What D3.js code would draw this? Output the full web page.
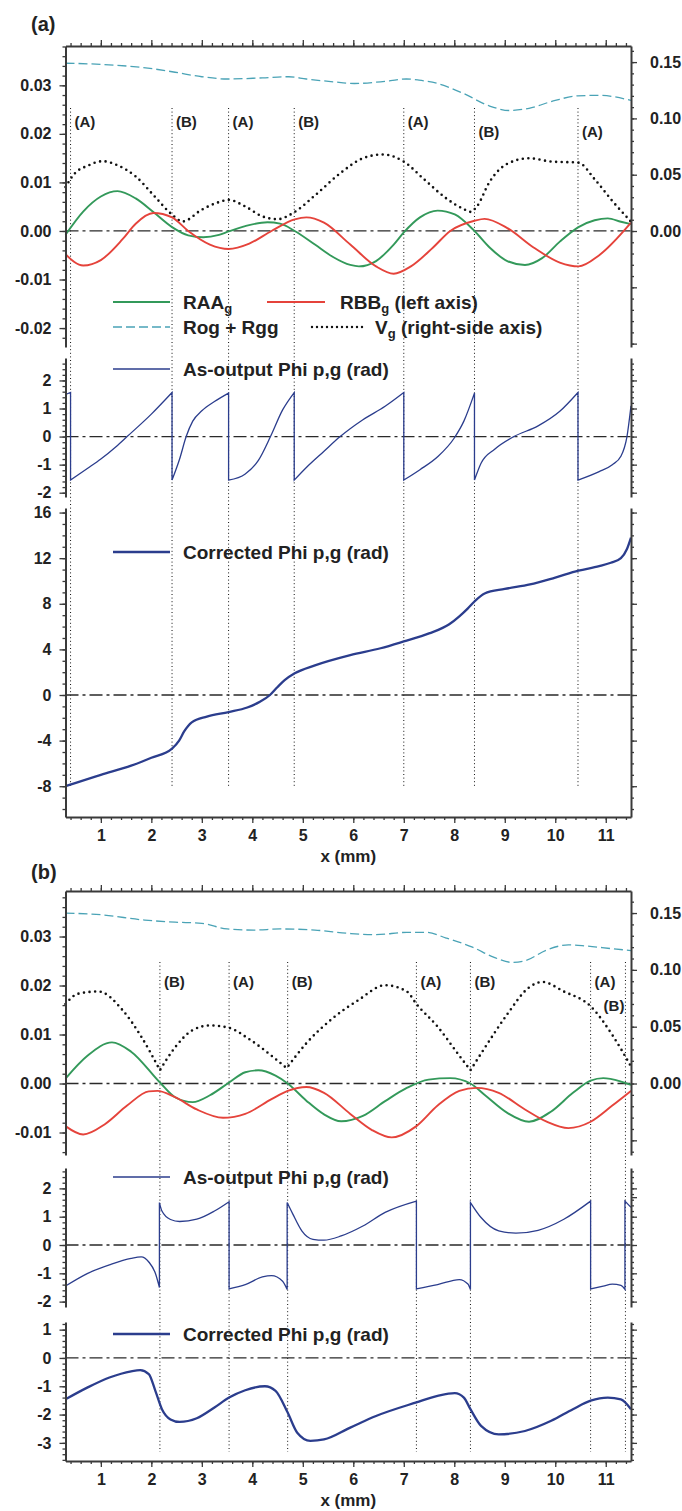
<!DOCTYPE html>
<html lang="en">
<head>
<meta charset="utf-8">
<title>RAAg / RBBg / Phi p,g</title>
<script src="https://cdnjs.cloudflare.com/ajax/libs/d3/7.8.5/d3.min.js"></script>
<style>
  body { margin: 0; background: #fff; }
  svg text { font-family: "Liberation Sans", Arial, sans-serif; font-weight: bold; fill: #222; }
</style>
</head>
<body>
<svg id="svg" width="682" height="1511"></svg>
<script>
// ---------- data ----------
var xDomain = [0.3, 11.5];
var xTicks = [1, 2, 3, 4, 5, 6, 7, 8, 9, 10, 11];

var aMarkX = [0.40, 2.41, 3.53, 4.83, 7.00, 8.40, 10.45];
var aMarkLabel = ["(A)", "(B)", "(A)", "(B)", "(A)", "(B)", "(A)"];
var bMarkX = [2.17, 3.54, 4.70, 7.25, 8.32, 10.70, 11.39];
var bMarkLabel = ["(B)", "(A)", "(B)", "(A)", "(B)", "(A)", "(B)"];

var aLeftTicks = [-0.02, -0.01, 0, 0.01, 0.02, 0.03];
var bLeftTicks = [-0.01, 0, 0.01, 0.02, 0.03];
var rightTicks = [-0.10, -0.05, 0, 0.05, 0.10, 0.15];
var phiTicks = [-2, -1, 0, 1, 2];
var aCorrTicks = [-8, -4, 0, 4, 8, 12, 16];
var bCorrTicks = [-3, -2, -1, 0, 1];

// panel (a)
var aRog = [[0.3,0.149],[1.0,0.148],[2.04,0.144],[2.47,0.141],[3.0,0.137],[3.5,0.135],[4.2,0.136],[4.72,0.137],
  [5.07,0.135],[5.6,0.1325],[6.02,0.131],[6.54,0.1325],[7.05,0.135],[7.3,0.134],[7.67,0.131],[8.19,0.122],
  [8.7,0.111],[9.1,0.107],[9.48,0.109],[10.0,0.116],[10.44,0.120],[10.87,0.1205],[11.5,0.116]];
var aRAA = [[0.3,-0.0008],[0.65,0.004],[1.0,0.0071],[1.33,0.0082],[1.69,0.0067],[2.04,0.0039],[2.41,0.0008],
  [2.73,-0.0009],[3.03,-0.0013],[3.34,-0.0008],[3.53,-0.0001],[3.86,0.001],[4.3,0.0018],[4.55,0.0015],[4.84,0],
  [5.24,-0.0028],[5.59,-0.0053],[5.94,-0.007],[6.11,-0.0073],[6.45,-0.0062],[6.8,-0.0028],[7.0,-0.0003],
  [7.32,0.0028],[7.67,0.0042],[8.01,0.0034],[8.4,0],[8.7,-0.0034],[9.05,-0.0062],[9.4,-0.007],[9.74,-0.0056],
  [10.09,-0.0022],[10.46,0.0008],[10.78,0.0022],[11.04,0.0026],[11.3,0.0019],[11.5,0.0014]];
var aRBB = [[0.3,-0.0048],[0.65,-0.0071],[1.0,-0.006],[1.43,-0.0017],[1.69,0.0015],[2.04,0.0037],[2.41,0.0028],
  [2.73,0],[3.16,-0.0028],[3.53,-0.0037],[3.94,-0.0026],[4.38,0],[4.84,0.0024],[5.07,0.0028],[5.42,0.0017],
  [5.94,-0.0028],[6.45,-0.0073],[6.8,-0.0088],[7.14,-0.0073],[7.58,-0.0034],[7.92,0],[8.4,0.0021],[8.6,0.0025],
  [9.05,0.0006],[9.57,-0.0034],[10.09,-0.0065],[10.46,-0.0073],[10.87,-0.005],[11.5,0.0017]];
var aVg = [[0.3,0.039],[0.48,0.051],[0.74,0.058],[1.04,0.062],[1.35,0.058],[1.69,0.0485],[2.04,0.032],[2.41,0.0146],
  [2.62,0.0085],[3.0,0.019],[3.34,0.0257],[3.53,0.0277],[3.86,0.0218],[4.2,0.013],[4.5,0.0105],[4.84,0.017],
  [5.24,0.0316],[5.76,0.052],[6.19,0.0646],[6.58,0.068],[7.0,0.0617],[7.4,0.046],[7.84,0.029],[8.19,0.0194],
  [8.32,0.017],[8.45,0.022],[8.7,0.0437],[9.05,0.0597],[9.48,0.0646],[9.92,0.0617],[10.46,0.0607],[10.78,0.046],
  [11.13,0.0267],[11.5,0.0083]];
var aPhiRaw = [[0.3,1.5],[0.40,1.57],[0.40,-1.55],[0.74,-1.13],[1.0,-0.8],[1.3,-0.36],[1.52,0],[2.0,0.8],[2.41,1.57],
  [2.41,-1.55],[2.56,-0.8],[2.69,0],[2.82,0.55],[3.0,0.92],[3.25,1.25],[3.53,1.55],
  [3.53,-1.55],[3.86,-1.33],[4.12,-0.85],[4.36,0],[4.6,0.95],[4.83,1.57],
  [4.83,-1.55],[5.07,-1.1],[5.42,-0.52],[5.74,0],[6.19,0.6],[6.63,1.08],[7.0,1.57],
  [7.0,-1.55],[7.32,-1.18],[7.67,-0.72],[8.0,-0.05],[8.19,0.55],[8.4,1.55],
  [8.4,-1.55],[8.53,-0.95],[8.8,-0.45],[9.18,0],[9.66,0.38],[10.09,0.9],[10.45,1.57],
  [10.45,-1.55],[10.87,-1.25],[11.13,-1.0],[11.3,-0.7],[11.42,0],[11.5,1.1]];
var aPhiCorr = [[0.3,-8.0],[1.0,-7.0],[1.6,-6.2],[2.0,-5.5],[2.41,-4.7],[2.55,-4.0],[2.65,-3.2],[2.8,-2.4],[3.1,-1.9],
  [3.53,-1.5],[3.9,-1.1],[4.15,-0.6],[4.35,0],[4.5,0.7],[4.64,1.3],[4.84,1.9],[5.24,2.6],[5.94,3.5],[6.54,4.1],
  [7.0,4.7],[7.5,5.4],[7.9,6.2],[8.1,6.9],[8.27,7.6],[8.4,8.2],[8.6,8.9],[9.0,9.3],[9.5,9.7],[10.0,10.3],
  [10.46,10.9],[10.87,11.3],[11.1,11.6],[11.3,12.0],[11.42,12.8],[11.5,13.8]];

// panel (b)
var bRog = [[0.3,0.150],[1.0,0.1485],[1.87,0.1438],[2.47,0.142],[3.0,0.141],[3.5,0.136],[4.03,0.135],[4.55,0.136],
  [5.24,0.135],[5.94,0.132],[6.45,0.131],[7.06,0.133],[7.45,0.133],[7.84,0.128],[8.36,0.12],[8.79,0.111],
  [9.14,0.1066],[9.4,0.108],[9.83,0.1175],[10.26,0.122],[10.61,0.121],[11.13,0.1186],[11.5,0.117]];
var bRAA = [[0.3,0.001],[0.74,0.0057],[1.22,0.0084],[1.6,0.0065],[2.17,0.0002],[2.47,-0.0028],[2.82,-0.0038],
  [3.16,-0.0024],[3.54,0.0002],[3.86,0.0023],[4.12,0.0027],[4.46,0.0016],[4.7,0],[5.07,-0.0035],[5.42,-0.0063],
  [5.76,-0.0077],[6.19,-0.0066],[6.63,-0.0036],[7.06,-0.0009],[7.49,0.0008],[7.92,0.0011],[8.32,0],[8.61,-0.0024],
  [9.05,-0.006],[9.48,-0.0078],[9.92,-0.0057],[10.35,-0.0019],[10.7,0.0006],[10.95,0.0011],[11.3,0.0004],[11.5,-0.0003]];
var bRBB = [[0.3,-0.0087],[0.65,-0.0104],[1.08,-0.0083],[1.52,-0.0045],[1.95,-0.0016],[2.12,-0.0015],[2.47,-0.0028],
  [2.9,-0.0053],[3.42,-0.007],[3.86,-0.0062],[4.38,-0.0032],[4.7,-0.0015],[5.07,-0.0007],[5.42,-0.0019],
  [5.94,-0.0062],[6.37,-0.0095],[6.76,-0.011],[7.25,-0.0087],[7.67,-0.0045],[8.1,-0.0015],[8.44,-0.0009],
  [8.88,-0.0019],[9.4,-0.0053],[9.83,-0.0078],[10.26,-0.0091],[10.7,-0.0078],[11.13,-0.0045],[11.5,-0.0015]];
var bVg = [[0.3,0.070],[0.55,0.079],[0.95,0.081],[1.43,0.0646],[1.78,0.0427],[2.17,0.0117],[2.17,0.0117],
  [2.47,0.0318],[2.82,0.047],[3.16,0.0511],[3.54,0.049],[3.94,0.039],[4.38,0.0245],[4.68,0.0135],[4.68,0.0135],
  [5.07,0.0354],[5.59,0.0573],[6.11,0.0737],[6.63,0.0865],[7.06,0.081],[7.25,0.070],[7.67,0.050],[8.1,0.0245],
  [8.32,0.0117],[8.32,0.0117],[8.61,0.0318],[9.05,0.061],[9.48,0.0845],[9.74,0.0894],[10.17,0.081],[10.7,0.068],
  [11.13,0.0427],[11.5,0.015]];
var bPhiRaw = [[0.3,-1.45],[0.74,-1.0],[1.17,-0.7],[1.6,-0.47],[1.8,-0.42],[1.95,-0.6],[2.08,-1.0],[2.16,-1.5],
  [2.16,1.5],[2.21,1.2],[2.38,0.9],[2.56,0.83],[2.9,0.91],[3.25,1.2],[3.54,1.53],
  [3.54,-1.55],[3.86,-1.4],[4.2,-1.13],[4.38,-1.08],[4.6,-1.28],[4.69,-1.57],
  [4.69,1.5],[4.8,1.1],[4.98,0.5],[5.2,0.2],[5.42,0.17],[5.76,0.32],[6.19,0.67],[6.63,1.15],[7.25,1.55],
  [7.25,-1.55],[7.67,-1.4],[8.1,-1.22],[8.27,-1.38],[8.32,-1.57],
  [8.32,1.5],[8.53,0.97],[8.88,0.5],[9.22,0.42],[9.66,0.52],[10.17,0.91],[10.7,1.55],
  [10.7,-1.55],[10.95,-1.45],[11.13,-1.38],[11.3,-1.43],[11.38,-1.57],
  [11.38,1.55],[11.5,1.33]];
var bPhiCorr = [[0.3,-1.46],[0.74,-1.04],[1.17,-0.69],[1.6,-0.47],[1.78,-0.43],[1.95,-0.57],[2.08,-1.16],[2.21,-1.81],
  [2.38,-2.17],[2.56,-2.26],[2.9,-2.13],[3.25,-1.75],[3.54,-1.4],[3.86,-1.14],[4.25,-1.0],[4.46,-1.16],[4.7,-1.93],
  [4.89,-2.64],[5.15,-2.93],[5.42,-2.88],[5.94,-2.46],[6.45,-2.05],[7.25,-1.57],[7.67,-1.34],[8.01,-1.24],
  [8.19,-1.4],[8.32,-1.81],[8.53,-2.4],[8.88,-2.7],[9.4,-2.58],[9.92,-2.22],[10.35,-1.81],[10.7,-1.51],
  [11.04,-1.4],[11.3,-1.46],[11.5,-1.81]];

// ---------- layout ----------
var X0 = 65.5, X1 = 631;
var AX = "#3a3a3a";
var GREEN = "#33995a", RED = "#e5433b", TEAL = "#4aa3b6", BLUE = "#2b3d8d";

var svg = d3.select("#svg");
var x = d3.scaleLinear().domain(xDomain).range([X0, X1]);

var figs = [
  { name: "(a)", nameY: 31, top: 46, markY: [108, 786], labelY: [127, 127, 127, 127, 127, 137, 137],
    rows: [
      { y0: 46, y1: 347, dom: [-0.0239, 0.0381], rdom: [-0.103, 0.1643], ticks: aLeftTicks, step: 0.002 },
      { y0: 358, y1: 497, dom: [-2.153, 2.8], ticks: phiTicks, step: 0.2 },
      { y0: 508, y1: 817, dom: [-10.7, 16.4], ticks: aCorrTicks, step: 1 }
    ],
    rog: aRog, raa: aRAA, rbb: aRBB, vg: aVg, raw: aPhiRaw, corr: aPhiCorr,
    markX: aMarkX, markLabel: aMarkLabel, bigLegend: true,
    rawLegendY: 369, corrLegendY: 552, tickY: 817, xlabY: 862 },
  { name: "(b)", nameY: 879, top: 891, markY: [962, 1452], labelY: [987, 987, 987, 987, 987, 987, 1011],
    rows: [
      { y0: 891, y1: 1155, dom: [-0.01459, 0.03929], rdom: [-0.0629, 0.1694], ticks: bLeftTicks, step: 0.002 },
      { y0: 1168, y1: 1307, dom: [-2.19, 2.72], ticks: phiTicks, step: 0.2 },
      { y0: 1322, y1: 1461, dom: [-3.64, 1.27], ticks: bCorrTicks, step: 0.2 }
    ],
    rog: bRog, raa: bRAA, rbb: bRBB, vg: bVg, raw: bPhiRaw, corr: bPhiCorr,
    markX: bMarkX, markLabel: bMarkLabel, bigLegend: false,
    rawLegendY: 1177, corrLegendY: 1334, tickY: 1461, xlabY: 1506 }
];

// a path that may jump: points sharing an x start a new smooth piece,
// and the pieces are joined with straight segments
function jumpPath(line, pts) {
  var segs = [[pts[0]]];
  for (var i = 1; i < pts.length; i++) {
    if (pts[i][0] === pts[i - 1][0]) segs.push([pts[i]]);
    else segs[segs.length - 1].push(pts[i]);
  }
  return segs.map(function(s, i) {
    var d = line(s);
    return i ? d.replace(/^M/, "L") : d;
  }).join("");
}

function styleAxis(g) {
  g.attr("font-family", null).attr("font-size", 16);
  g.select(".domain").attr("stroke", AX).attr("stroke-width", 2);
  g.selectAll(".tick line").attr("stroke", AX).attr("stroke-width", 1.3);
  g.selectAll(".tick text").attr("fill", "#222");
}

function vAxis(scale, side, ticks, step, fmt, showLabel) {
  var left = side === "left";
  var d = scale.domain();
  var minor = d3.range(Math.ceil(d[0] / step - 1e-6) * step, d[1], step);
  var tx = "translate(" + (left ? X0 : X1) + ",0)";
  var gm = svg.append("g").attr("transform", tx)
    .call((left ? d3.axisLeft(scale) : d3.axisRight(scale)).tickValues(minor).tickSize(3).tickSizeOuter(0).tickFormat(""));
  styleAxis(gm);
  gm.select(".domain").remove();
  var g = svg.append("g").attr("transform", tx)
    .call((left ? d3.axisLeft(scale) : d3.axisRight(scale)).tickValues(ticks).tickSize(6).tickSizeOuter(0)
      .tickPadding(left ? 8 : 13)
      .tickFormat(function(v) { return showLabel(v) ? v.toFixed(fmt) : ""; }));
  styleAxis(g);
}

function hAxis(y, bottom) {
  var minor = d3.range(0.4, 11.51, 0.2);
  var gm = svg.append("g").attr("transform", "translate(0," + y + ")")
    .call((bottom ? d3.axisBottom(x) : d3.axisTop(x)).tickValues(minor).tickSize(3).tickSizeOuter(0).tickFormat(""));
  styleAxis(gm);
  gm.select(".domain").remove();
  var g = svg.append("g").attr("transform", "translate(0," + y + ")")
    .call((bottom ? d3.axisBottom(x) : d3.axisTop(x)).tickValues(xTicks).tickSize(6).tickSizeOuter(0)
      .tickPadding(7).tickFormat(bottom ? d3.format("d") : ""));
  styleAxis(g);
}

function legendLine(x1, x2, y, color, width, dash, cap) {
  svg.append("line").attr("x1", x1).attr("x2", x2).attr("y1", y).attr("y2", y)
    .attr("stroke", color).attr("stroke-width", width)
    .attr("stroke-dasharray", dash || null).attr("stroke-linecap", cap || "butt");
}

function legendText(xp, y, main, sub, rest) {
  var t = svg.append("text").attr("x", xp).attr("y", y + 7).attr("font-size", 19);
  t.append("tspan").text(main);
  if (sub) t.append("tspan").attr("font-size", 13).attr("dy", 4).text(sub);
  if (rest) t.append("tspan").attr("dy", sub ? -4 : 0).text(rest);
}

figs.forEach(function(f) {
  var r0 = f.rows[0], r1 = f.rows[1], r2 = f.rows[2];
  var yL = d3.scaleLinear().domain(r0.dom).range([r0.y1, r0.y0]);
  var yR = d3.scaleLinear().domain(r0.rdom).range([r0.y1, r0.y0]);
  var yP = d3.scaleLinear().domain(r1.dom).range([r1.y1, r1.y0]);
  var yC = d3.scaleLinear().domain(r2.dom).range([r2.y1, r2.y0]);

  svg.append("text").attr("x", 31).attr("y", f.nameY).attr("font-size", 20).text(f.name);

  // vertical dotted markers with their (A)/(B) labels
  var lastB = function(i) { return f.name === "(b)" && i === 6; };
  svg.append("g").selectAll("line").data(f.markX).join("line")
    .attr("x1", function(d) { return x(d); }).attr("x2", function(d) { return x(d); })
    .attr("y1", f.markY[0]).attr("y2", f.markY[1])
    .attr("stroke", "#111").attr("stroke-width", 1).attr("stroke-dasharray", "1 2.6");
  svg.append("g").selectAll("text").data(f.markX).join("text")
    .attr("x", function(d, i) { return lastB(i) ? x(d) - 1 : x(d) + 4; })
    .attr("y", function(d, i) { return f.labelY[i]; })
    .attr("text-anchor", function(d, i) { return lastB(i) ? "end" : "start"; })
    .attr("font-size", 15)
    .text(function(d, i) { return f.markLabel[i]; });

  // zero lines
  [yL, yP, yC].forEach(function(s) {
    svg.append("line").attr("x1", X0).attr("x2", X1).attr("y1", s(0)).attr("y2", s(0))
      .attr("stroke", "#2a2a2a").attr("stroke-width", 1.3).attr("stroke-dasharray", "13 4 3 4");
  });

  var lineL = d3.line().x(function(d) { return x(d[0]); }).y(function(d) { return yL(d[1]); }).curve(d3.curveMonotoneX);
  var lineR = d3.line().x(function(d) { return x(d[0]); }).y(function(d) { return yR(d[1]); }).curve(d3.curveMonotoneX);
  var lineP = d3.line().x(function(d) { return x(d[0]); }).y(function(d) { return yP(d[1]); }).curve(d3.curveMonotoneX);
  var lineC = d3.line().x(function(d) { return x(d[0]); }).y(function(d) { return yC(d[1]); }).curve(d3.curveMonotoneX);

  svg.append("path").attr("d", lineR(f.rog)).attr("fill", "none").attr("stroke", TEAL)
    .attr("stroke-width", 1.3).attr("stroke-dasharray", "9 4");
  svg.append("path").attr("d", jumpPath(lineR, f.vg)).attr("fill", "none").attr("stroke", "#111")
    .attr("stroke-width", 2.6).attr("stroke-linecap", "round").attr("stroke-dasharray", "0 5.6");
  svg.append("path").attr("d", lineL(f.raa)).attr("fill", "none").attr("stroke", GREEN).attr("stroke-width", 1.9);
  svg.append("path").attr("d", lineL(f.rbb)).attr("fill", "none").attr("stroke", RED).attr("stroke-width", 1.9);
  svg.append("path").attr("d", jumpPath(lineP, f.raw)).attr("fill", "none").attr("stroke", BLUE).attr("stroke-width", 1.3);
  svg.append("path").attr("d", lineC(f.corr)).attr("fill", "none").attr("stroke", BLUE).attr("stroke-width", 2.3);

  // axes
  var always = function() { return true; };
  var never = function() { return false; };
  vAxis(yL, "left", r0.ticks, r0.step, 2, always);
  vAxis(yR, "right", rightTicks, 0.01, 2, function(v) { return v >= 0; });
  vAxis(yP, "left", r1.ticks, r1.step, 0, always);
  vAxis(yP, "right", r1.ticks, r1.step, 0, never);
  vAxis(yC, "left", r2.ticks, r2.step, 0, always);
  vAxis(yC, "right", r2.ticks, r2.step, 0, never);
  hAxis(f.top, false);
  hAxis(f.tickY, true);

  svg.append("text").attr("x", (X0 + X1) / 2).attr("y", f.xlabY).attr("text-anchor", "middle")
    .attr("font-size", 17).text("x (mm)");

  // legends
  if (f.bigLegend) {
    var ly1 = 302, ly2 = 327;
    legendLine(113, 170, ly1, GREEN, 2);
    legendText(183, ly1, "RAA", "g");
    legendLine(267, 325, ly1, RED, 2);
    legendText(340, ly1, "RBB", "g", "  (left axis)");
    legendLine(113, 170, ly2, TEAL, 1.4, "9 4");
    legendText(183, ly2, "Rog + Rgg");
    legendLine(312, 367, ly2, "#111", 2.4, "0 5", "round");
    legendText(375, ly2, "V", "g", "  (right-side axis)");
  }
  legendLine(113, 170, f.rawLegendY, BLUE, 1.4);
  legendText(183, f.rawLegendY, "As-output Phi p,g (rad)");
  legendLine(113, 170, f.corrLegendY, BLUE, 2.3);
  legendText(183, f.corrLegendY, "Corrected Phi p,g (rad)");
});
</script>
</body>
</html>
